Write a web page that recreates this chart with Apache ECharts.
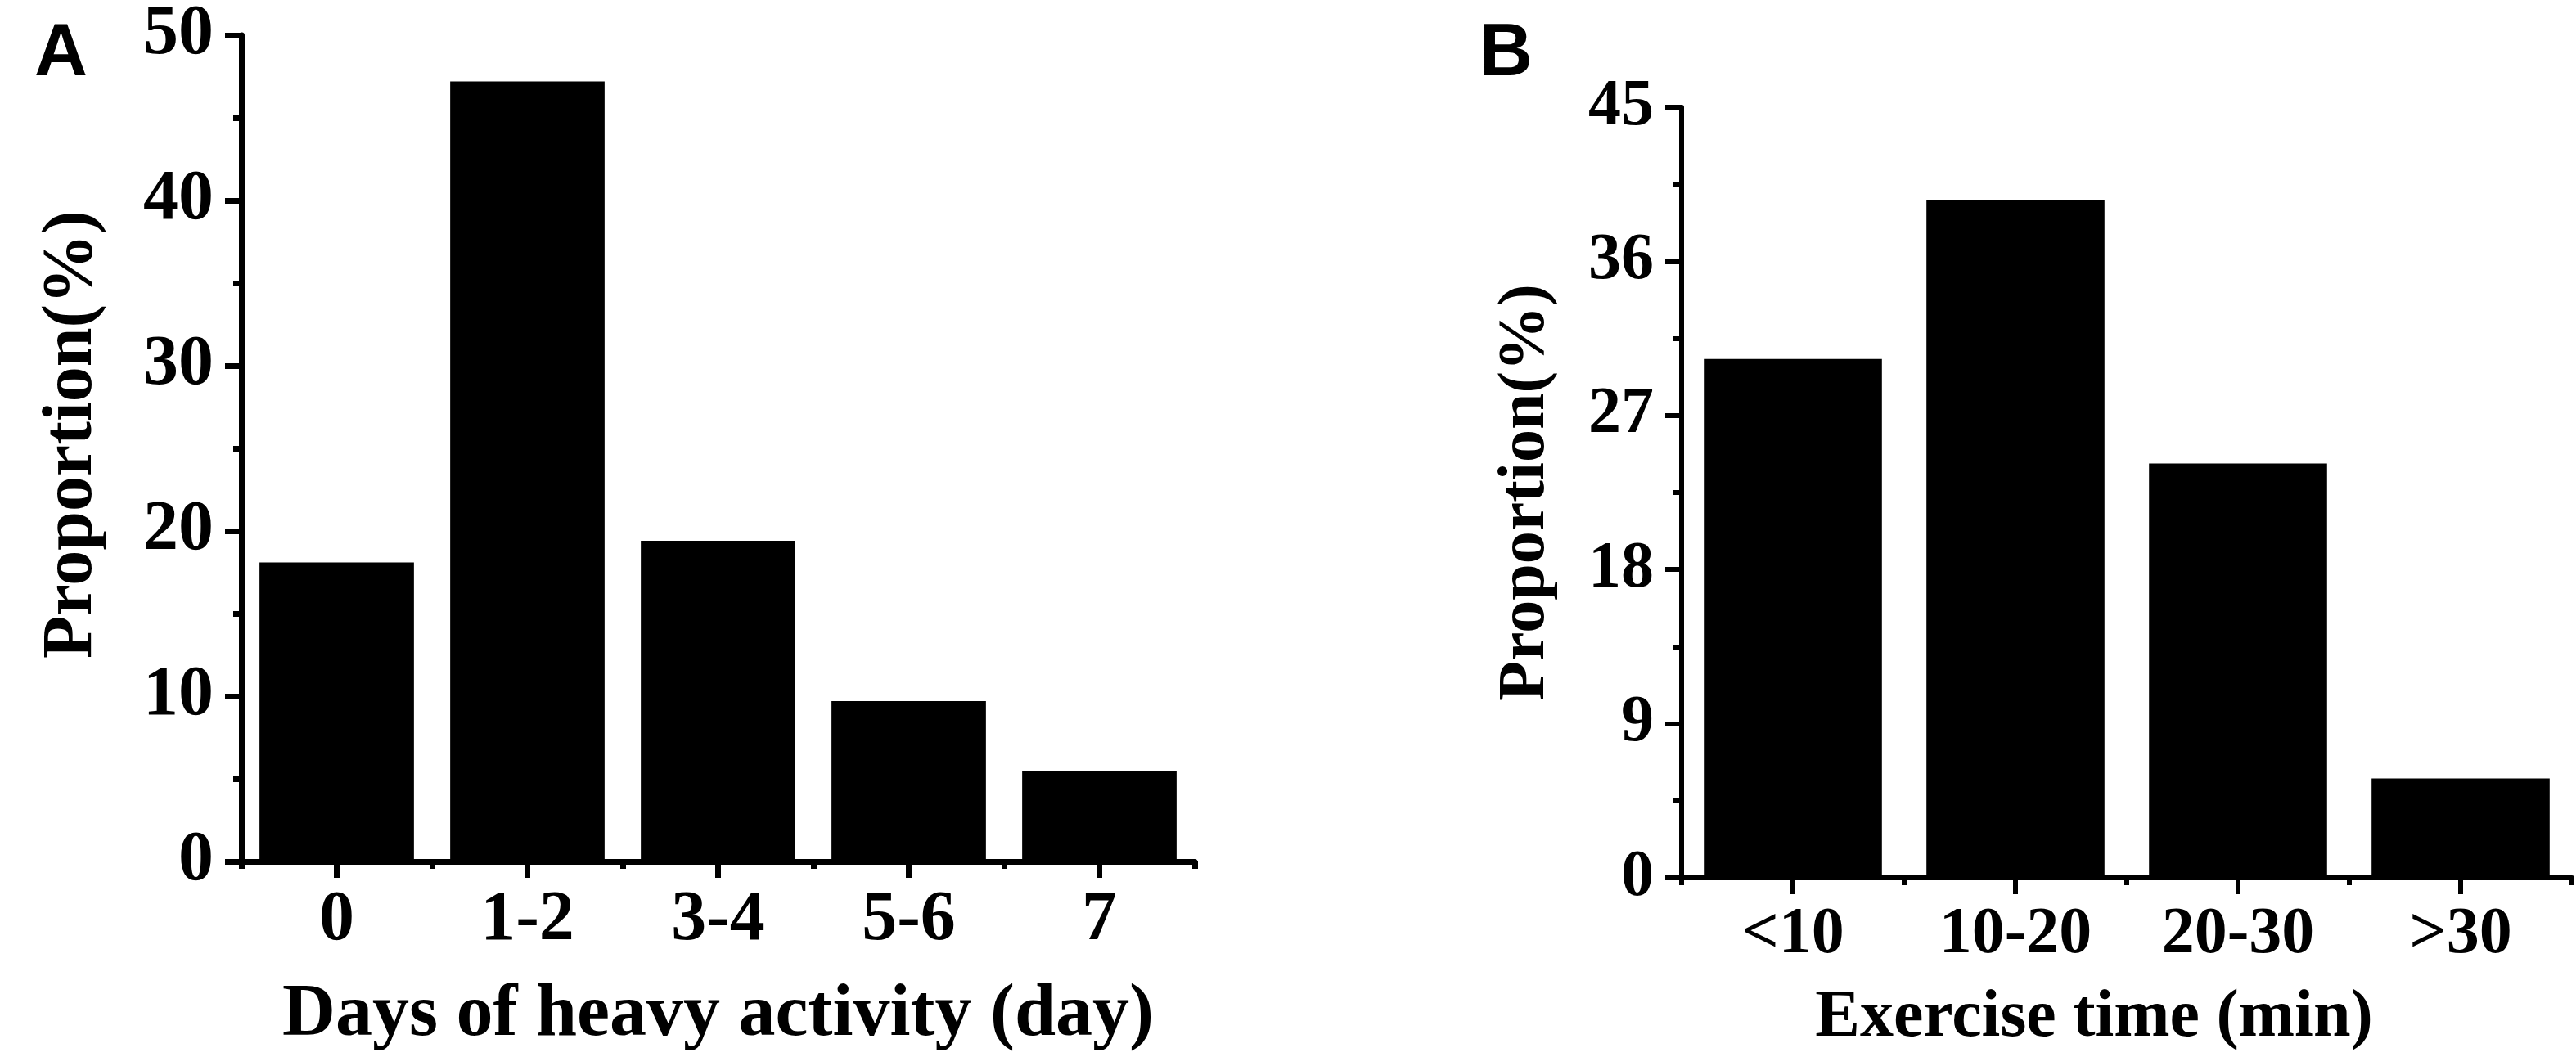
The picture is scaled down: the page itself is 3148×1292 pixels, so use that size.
<!DOCTYPE html>
<html>
<head>
<meta charset="utf-8">
<title>Proportion by heavy activity days and exercise time</title>
<script src="https://cdn.jsdelivr.net/npm/echarts@6/dist/echarts.min.js"></script>
<style>
  html, body { margin: 0; padding: 0; background: #fff; }
  #chart { width: 3148px; height: 1292px; }
</style>
</head>
<body>
<div id="chart"></div>
<script>
// panel A - days of heavy activity
const dayCategories = ['0', '1-2', '3-4', '5-6', '7'];
const dayProportion = [18.1, 47.2, 19.4, 9.7, 5.5];
const dayTicks = [0, 10, 20, 30, 40, 50];

// panel B - exercise time
const timeCategories = ['<10', '10-20', '20-30', '>30'];
const timeProportion = [30.3, 39.6, 24.2, 5.8];
const timeTicks = [0, 9, 18, 27, 36, 45];

const serif = "'Liberation Serif', 'Times New Roman', serif";
const sans = "'Liberation Sans', Arial, sans-serif";

function labelAxis(gridIndex, cats, p) {
  return {
    type: 'category',
    gridIndex: gridIndex,
    position: 'bottom',
    data: cats,
    name: p.name,
    nameLocation: 'middle',
    nameGap: p.nameGap,
    nameTextStyle: {
      color: '#000', fontFamily: serif, fontWeight: 'bold', fontSize: p.nameSize,
      padding: p.namePad || 0
    },
    axisLine: { show: true, lineStyle: { color: '#000', width: p.lw } },
    axisTick: { show: true, alignWithLabel: true, length: 20, lineStyle: { color: '#000', width: p.lw } },
    axisLabel: { color: '#000', fontFamily: serif, fontWeight: 'bold', fontSize: p.labelSize, margin: 30 },
    splitLine: { show: false }
  };
}

// second axis only draws the short ticks between the bars
function boundaryAxis(gridIndex, cats, p) {
  return {
    type: 'category',
    gridIndex: gridIndex,
    position: 'bottom',
    data: cats,
    axisLine: { show: false },
    axisTick: { show: true, length: 9, lineStyle: { color: '#000', width: p.lw } },
    axisLabel: { show: false },
    splitLine: { show: false }
  };
}

function valueAxis(gridIndex, ticks, p) {
  return {
    type: 'value',
    gridIndex: gridIndex,
    min: ticks[0],
    max: ticks[ticks.length - 1],
    interval: ticks[1] - ticks[0],
    name: 'Proportion(%)',
    nameLocation: 'middle',
    nameGap: p.nameGap,
    nameTextStyle: {
      color: '#000', fontFamily: serif, fontWeight: 'bold', fontSize: p.nameSize,
      padding: p.namePad || 0
    },
    axisLine: { show: true, lineStyle: { color: '#000', width: p.lw } },
    axisTick: { show: true, length: 20, lineStyle: { color: '#000', width: p.lw } },
    minorTick: { show: true, splitNumber: 2, length: 10, lineStyle: { color: '#000', width: p.lw } },
    axisLabel: { color: '#000', fontFamily: serif, fontWeight: 'bold', fontSize: p.labelSize, margin: 34 },
    splitLine: { show: false },
    minorSplitLine: { show: false }
  };
}

const styleA = { lw: 7, labelSize: 86 };
const styleB = { lw: 6, labelSize: 80 };

const chart = echarts.init(document.getElementById('chart'));

const option = {
  animation: false,
  backgroundColor: '#fff',
  graphic: [
    {
      type: 'text', left: 42, top: 22,
      style: { text: 'A', fill: '#000', fontFamily: sans, fontWeight: 'bold', fontSize: 90 }
    },
    {
      type: 'text', left: 1808, top: 22,
      style: { text: 'B', fill: '#000', fontFamily: sans, fontWeight: 'bold', fontSize: 90 }
    }
  ],
  grid: [
    { left: 295, top: 42, width: 1165, height: 1012 },
    { left: 2055, top: 131, width: 1088, height: 942 }
  ],
  xAxis: [
    labelAxis(0, dayCategories, Object.assign({
      name: 'Days of heavy activity (day)', nameGap: 144, nameSize: 90
    }, styleA)),
    boundaryAxis(0, dayCategories, styleA),
    labelAxis(1, timeCategories, Object.assign({
      name: 'Exercise time (min)', nameGap: 131, nameSize: 82, namePad: [0, 80, 0, 0]
    }, styleB)),
    boundaryAxis(1, timeCategories, styleB)
  ],
  yAxis: [
    valueAxis(0, dayTicks, Object.assign({ nameGap: 163, nameSize: 86, namePad: [0, 0, 0, 34] }, styleA)),
    valueAxis(1, timeTicks, Object.assign({ nameGap: 150, nameSize: 80 }, styleB))
  ],
  series: [
    {
      type: 'bar',
      xAxisIndex: 0,
      yAxisIndex: 0,
      data: dayProportion,
      barWidth: '81%',
      itemStyle: { color: '#000' }
    },
    {
      type: 'bar',
      xAxisIndex: 2,
      yAxisIndex: 1,
      data: timeProportion,
      barWidth: '80%',
      itemStyle: { color: '#000' }
    }
  ]
};

chart.setOption(option);
</script>
</body>
</html>
